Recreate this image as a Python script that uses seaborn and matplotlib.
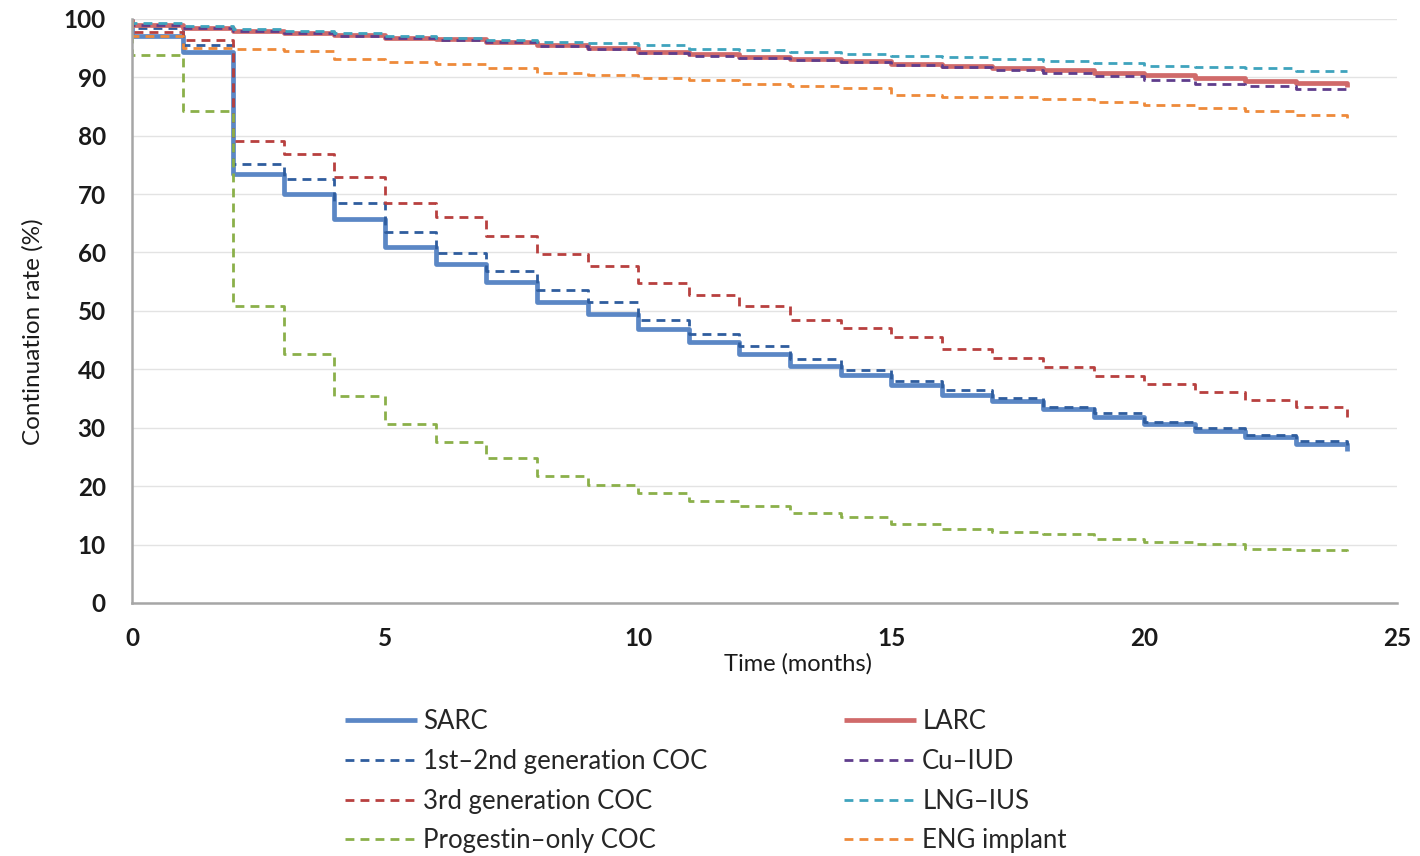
import numpy as np
import pandas as pd
import matplotlib
matplotlib.use("Agg")
import matplotlib.pyplot as plt
import seaborn as sns

# ---------------- data ----------------
months = list(range(0, 25))  # value at month m holds for [m, m+1); last value = end of curve
start_value = 100.0

sarc = [97.0, 94.3, 73.5, 70.0, 65.8, 61.0, 58.0, 55.0, 51.5, 49.5, 46.9, 44.7, 42.6,
        40.6, 39.0, 37.3, 35.6, 34.6, 33.2, 31.8, 30.6, 29.5, 28.4, 27.2, 26.0]
coc12 = [98.5, 95.5, 75.2, 72.6, 68.5, 63.5, 59.9, 56.8, 53.6, 51.5, 48.5, 46.1, 44.0,
         41.8, 39.9, 38.0, 36.5, 35.1, 33.6, 32.5, 31.0, 30.0, 28.8, 27.7, 27.0]
coc3 = [97.8, 96.3, 79.1, 76.9, 72.9, 68.5, 66.1, 62.8, 59.8, 57.7, 54.8, 52.7, 50.9,
        48.5, 47.1, 45.5, 43.4, 42.0, 40.4, 38.9, 37.5, 36.1, 34.8, 33.5, 31.8]
prog = [93.8, 84.2, 50.9, 42.6, 35.5, 30.6, 27.5, 24.8, 21.8, 20.2, 18.8, 17.5, 16.6,
        15.4, 14.7, 13.5, 12.7, 12.2, 11.8, 11.0, 10.5, 10.1, 9.2, 9.1, 8.9]
larc = [99.0, 98.4, 98.0, 97.6, 97.2, 96.8, 96.5, 96.1, 95.5, 95.0, 94.4, 93.9, 93.5,
        93.1, 92.7, 92.3, 92.0, 91.6, 91.2, 90.7, 90.3, 89.9, 89.4, 89.0, 88.3]
cuiud = [99.0, 98.5, 98.0, 97.5, 97.0, 96.7, 96.4, 96.0, 95.3, 94.8, 94.2, 93.6, 93.3,
         92.9, 92.6, 92.1, 91.8, 91.2, 90.8, 90.2, 89.6, 88.9, 88.5, 88.0, 87.5]
lngius = [99.3, 98.8, 98.3, 97.9, 97.5, 97.1, 96.8, 96.4, 96.0, 95.8, 95.5, 94.9, 94.6,
          94.4, 93.9, 93.6, 93.5, 93.2, 92.8, 92.4, 92.0, 91.8, 91.5, 91.0, 91.0]
eng = [97.0, 95.0, 94.8, 94.5, 93.2, 92.6, 92.2, 91.5, 90.7, 90.3, 89.9, 89.5, 88.9,
       88.5, 88.1, 86.9, 86.6, 86.6, 86.2, 85.7, 85.2, 84.7, 84.3, 83.5, 82.7]

labels = ["SARC", "1st\u20132nd generation COC", "3rd generation COC", "Progestin\u2013only COC",
          "LARC", "Cu\u2013IUD", "LNG\u2013IUS", "ENG implant"]
series = [sarc, coc12, coc3, prog, larc, cuiud, lngius, eng]

x_ticks = [0, 5, 10, 15, 20, 25]
y_ticks = list(range(0, 101, 10))

# ---------------- styles ----------------
colors = ["#5b87c5", "#2f5d9e", "#b8403f", "#8bb04a",
          "#d06a6a", "#5f3d8c", "#3fa3bd", "#ee8a3a"]
solid = [True, False, False, False, True, False, False, False]
widths = [3.4, 2.0, 2.0, 2.0, 3.4, 2.0, 2.0, 2.0]

sns.set_theme(style="white")
plt.rcParams["font.family"] = ["Lato", "DejaVu Sans"]

fig = plt.figure(figsize=(14.2, 8.56), dpi=100)
ax = fig.add_axes([0.093, 0.2956, 0.891, 0.6824])

for lab, vals, col, sol, lw in zip(labels, series, colors, solid, widths):
    df = pd.DataFrame({"month": [0] + months, "rate": [start_value] + vals})
    kw = dict(linestyle="-") if sol else dict(dashes=(3.2, 2.2))
    sns.lineplot(data=df, x="month", y="rate", ax=ax, color=col, linewidth=lw,
                 drawstyle="steps-post", estimator=None, sort=False, label=lab,
                 solid_capstyle="butt", dash_capstyle="butt", **kw)

ax.set_xlim(0, 25)
ax.set_ylim(0, 100)
ax.set_xticks(x_ticks)
ax.set_yticks(y_ticks)
ax.yaxis.grid(True, color="#e3e3e3", linewidth=1.0)
ax.xaxis.grid(False)
ax.set_axisbelow(True)
for s in ["top", "right"]:
    ax.spines[s].set_visible(False)
for s in ["left", "bottom"]:
    ax.spines[s].set_color("#a6a6a6")
    ax.spines[s].set_linewidth(1.8)
ax.tick_params(axis="both", which="both", direction="out", length=7, width=1.3,
               color="#a6a6a6", labelsize=17.5, labelcolor="#1a1a1a")
ax.tick_params(axis="x", pad=10)
ax.tick_params(axis="y", pad=12)
for t in ax.get_xticklabels() + ax.get_yticklabels():
    t.set_fontweight("bold")
ax.set_xlabel("Time (months)", fontsize=17, color="#1a1a1a")
ax.set_ylabel("Continuation rate (%)", fontsize=17.5, color="#1a1a1a")
ax.xaxis.set_label_coords(0.526, -0.085)
ax.yaxis.set_label_coords(-0.07, 0.465)

handles, labs = ax.get_legend_handles_labels()
ax.get_legend().remove()
fig.legend(handles, labs, loc="upper left", bbox_to_anchor=(0.243, 0.172),
           ncol=2, frameon=False, fontsize=18.5, handlelength=2.8, handletextpad=0.25,
           labelspacing=0.58, columnspacing=5.3, borderaxespad=0, borderpad=0)

fig.savefig("out.png", dpi=100, facecolor="white")
